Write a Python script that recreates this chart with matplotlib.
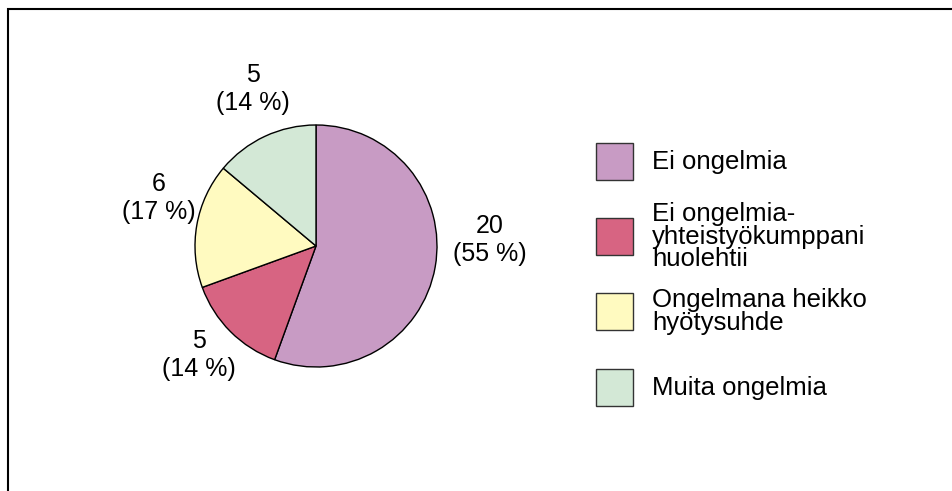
import numpy as np
import matplotlib
matplotlib.use('Agg')
import matplotlib.pyplot as plt
from matplotlib.patches import Rectangle

categories = ['Ei ongelmia', 'Ei ongelmia-\nyhteistyökumppani\nhuolehtii',
              'Ongelmana heikko\nhyötysuhde', 'Muita ongelmia']
counts = [20, 5, 6, 5]
percents = [55, 14, 17, 14]
colors = ['#C89BC4', '#D76482', '#FFFAC0', '#D3E8D6']

plt.rcParams['font.family'] = ['Liberation Sans', 'DejaVu Sans']

W, H = 952, 491
fig = plt.figure(figsize=(W / 100, H / 100), dpi=100)

# outer frame
fig.patches.append(Rectangle((8 / W, -0.1), 2, 1.1 - 9 / H, transform=fig.transFigure,
                             fill=False, edgecolor='black', linewidth=1.5))

# pie axes: centre (316, 246) px, radius 121 px
r = 121
cx, cy = 316, 246
ax = fig.add_axes([(cx - r) / W, (H - cy - r) / H, 2 * r / W, 2 * r / H])
wedges, _ = ax.pie(counts, colors=colors, startangle=90, counterclock=False,
                   radius=1, wedgeprops=dict(edgecolor='black', linewidth=1))
ax.set_xlim(-1, 1)
ax.set_ylim(-1, 1)
ax.set_aspect('equal')
ax.axis('off')

# label placement: angle nudge and distance per wedge
nudge = [12, -2, -7, -3]
dist = [1.44, 1.32, 1.36, 1.40]
for w, n, p, da, d in zip(wedges, counts, percents, nudge, dist):
    ang = np.deg2rad((w.theta1 + w.theta2) / 2 + da)
    ax.text(d * np.cos(ang), d * np.sin(ang), f'{n}\n({p} %)', ha='center', va='center',
            fontsize=18, linespacing=1.22, clip_on=False)

# legend
box = 37
box_tops = [143, 218, 293, 369]
for lab, col, top in zip(categories, colors, box_tops):
    fig.patches.append(Rectangle((596 / W, (H - top - box) / H), box / W, box / H,
                                 transform=fig.transFigure, facecolor=col,
                                 edgecolor='#333333', linewidth=1))
    fig.text(652 / W, (H - top - box / 2) / H, lab, ha='left', va='center',
             fontsize=18.5, linespacing=0.92)

fig.savefig('out.png', dpi=100)
